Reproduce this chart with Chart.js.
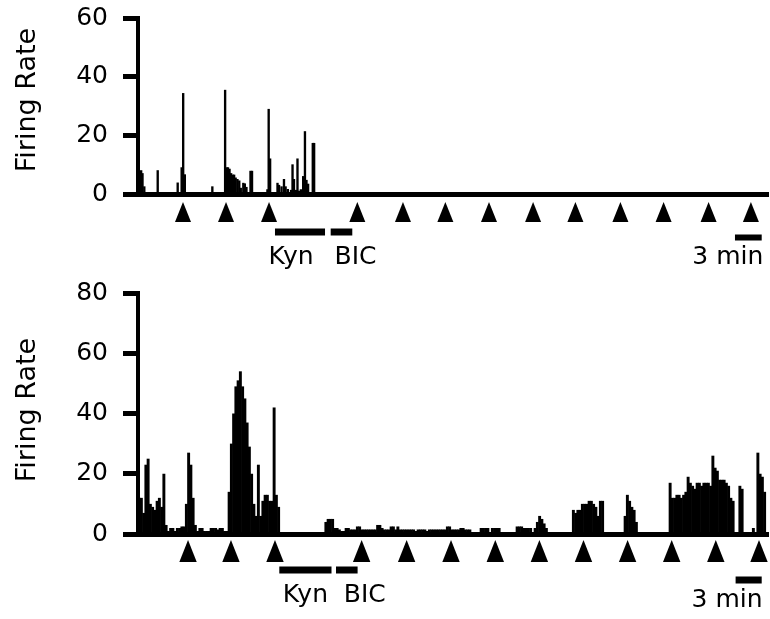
<!DOCTYPE html>
<html>
<head>
<meta charset="utf-8">
<script src="https://cdn.jsdelivr.net/npm/chart.js@4.4.1/dist/chart.umd.min.js"></script>
<style>
  html, body { margin: 0; padding: 0; background: #fff; }
  #wrap { position: relative; width: 770px; height: 619px; }
  .panel { position: absolute; left: 0; width: 770px; }
  #topPanel { top: 0; height: 270px; }
  #bottomPanel { top: 270px; height: 349px; }
</style>
</head>
<body>
<div id="wrap">
  <div class="panel" id="topPanel"><canvas id="topChart"></canvas></div>
  <div class="panel" id="bottomPanel"><canvas id="bottomChart"></canvas></div>
</div>
<script>
// time axis in minutes
const timeRange = [0, 70];

// top cell: sparse spikes (time in min, firing rate)
const topTimes = [
  0.35, 0.5, 0.7, 2.19, 4.41, 4.85, 5.02, 5.2, 8.26,
  9.68, 9.85, 10.0, 10.17, 10.35, 10.52, 10.68, 10.85, 11.05, 11.25, 11.42, 11.7, 11.87, 12.05, 12.5, 12.67,
  14.38, 14.52, 14.68,
  15.5, 15.67, 15.95, 16.22, 16.4, 16.65, 17.0, 17.17, 17.33, 17.55, 17.72, 17.9, 18.1, 18.35, 18.55, 18.72, 18.9, 19.42, 19.57
];
const topRates = [
  8, 7, 2.5, 8, 3.8, 9, 34.3, 6.6, 2.5,
  35.4, 9, 9, 8.5, 7, 6.5, 6.5, 5.5, 5, 4.5, 2, 3.7, 3.5, 2.3, 7.8, 7.8,
  1.5, 28.9, 12,
  3.7, 3, 2.5, 5, 2.5, 1.6, 1.3, 10, 5, 1.3, 12, 1, 1.5, 6, 21.3, 4.7, 3.4, 17.3, 17.3
];

// bottom cell: 15 s bins (0.25 min), one row = 5 min
const binWidth = 0.25;
const bottomRates = [
  12, 12, 7, 23, 25, 10, 9, 8, 11, 12, 9, 20, 3, 1, 2, 2, 1, 2, 2, 2.5,
  2.5, 10, 27, 23, 12, 3, 1, 2, 2, 1, 1, 1, 2, 2, 2, 1.5, 2, 2, 1, 1,
  14, 30, 40, 49, 51, 54, 49, 45, 37, 29, 20, 10, 6, 23, 6, 11, 13, 13, 11, 11,
  42, 13, 9, 0, 0, 0, 0, 0, 0, 0, 0, 0, 0, 0, 0, 0, 0, 0, 0, 0,
  0, 0, 0, 4, 5, 5, 5, 2, 2, 1.5, 1, 1, 2, 2, 1.5, 1.5, 1.5, 2.5, 2.5, 1.5,
  1.5, 1.5, 1.5, 1.5, 1.5, 1.5, 3, 3, 2, 1.5, 1.5, 1.5, 2.5, 2.5, 1.5, 2.5, 1.5, 1.5, 1.5, 1.5,
  1.5, 1.5, 1.5, 1, 1.5, 1.5, 1.5, 1.5, 1, 1.5, 1.5, 1.5, 1.5, 1.5, 1.5, 1.5, 1.5, 2.5, 2.5, 1.5,
  1.5, 1.5, 1.5, 2, 2, 1.5, 1.5, 1.5, 0, 0, 0, 0, 2, 2, 2, 2, 0, 2, 2, 2,
  2, 0, 0, 0, 0, 0, 0, 0, 2.5, 2.5, 2.5, 2, 2, 2, 2, 0.5, 2, 4, 6, 5,
  3.5, 2, 0, 0, 0, 0, 0, 0, 0, 0, 0, 0, 0, 8, 7, 8, 8, 10, 10, 10,
  11, 11, 10, 9, 6, 11, 11, 0, 0, 0, 0, 0, 0, 0, 0, 0, 6, 13, 11, 9,
  8, 4, 0, 0, 0, 0, 0, 0, 0, 0, 0, 0, 0, 0, 0, 0, 17, 12, 12, 13,
  13, 12, 13, 14, 19, 17, 16, 15, 17, 17, 16, 17, 17, 17, 16, 26, 22, 21, 18, 18,
  18, 17, 16, 12, 11, 0, 0, 16, 15, 0, 0, 0, 0, 2, 0, 27, 20, 19, 14, 0
];

// stimulus times (arrowheads), drug applications and scale bar, in min
const topArrowTimes = [5.0, 9.78, 14.56, 24.37, 29.44, 34.15, 39.0, 43.9, 48.6, 53.6, 58.4, 63.4, 68.1];
const bottomArrowTimes = [5.56, 10.33, 15.22, 24.85, 29.85, 34.78, 39.7, 44.6, 49.5, 54.4, 59.3, 64.2, 69.0];
const topKyn = [15.22, 20.78];
const topBic = [21.41, 23.81];
const bottomKyn = [15.7, 21.5];
const bottomBic = [22.0, 24.4];
const topScaleBar = [66.33, 69.3];
const bottomScaleBar = [66.4, 69.3];
const topLabelAt = { kyn: 17.0, bic: 24.17, scale: 69.48 };
const bottomLabelAt = { kyn: 18.6, bic: 25.2, scale: 69.4 };

const FONT = 'DejaVu Sans';

// arrowheads, drug bars, labels and the rotated y title
const stimMarks = {
  id: 'stimMarks',
  afterDraw(chart, args, opts) {
    const { ctx, chartArea } = chart;
    const xs = chart.scales.x;
    const base = chartArea.bottom;
    ctx.save();
    ctx.fillStyle = '#000';
    opts.arrows.forEach(t => {
      const px = xs.getPixelForValue(t);
      ctx.beginPath();
      ctx.moveTo(px, base + opts.arrowTip);
      ctx.lineTo(px + opts.arrowHalf, base + opts.arrowBase);
      ctx.lineTo(px - opts.arrowHalf, base + opts.arrowBase);
      ctx.closePath();
      ctx.fill();
    });
    opts.bars.forEach(b => {
      const x1 = xs.getPixelForValue(b.range[0]);
      const x2 = xs.getPixelForValue(b.range[1]);
      ctx.fillRect(x1, base + b.y - b.h / 2, x2 - x1, b.h);
    });
    ctx.font = '25px "' + FONT + '"';
    ctx.textBaseline = 'alphabetic';
    opts.labels.forEach(l => {
      ctx.textAlign = l.align;
      ctx.fillText(l.text, xs.getPixelForValue(l.at), base + l.y);
    });
    // y title
    ctx.translate(opts.titleX, opts.titleY);
    ctx.rotate(-Math.PI / 2);
    ctx.font = '27px "' + FONT + '"';
    ctx.textAlign = 'center';
    ctx.textBaseline = 'middle';
    ctx.fillText('Firing Rate', 0, 0);
    ctx.restore();
  }
};

function yAxis(max) {
  return {
    min: 0,
    max: max,
    ticks: { stepSize: 20, color: '#000', font: { family: FONT, size: 25 }, padding: 15 },
    grid: { drawOnChartArea: false, drawTicks: true, tickLength: 15, tickWidth: 5, tickColor: '#000' },
    border: { display: true, color: '#000', width: 4 },
    afterFit: s => { s.width = 138; s.paddingTop = 0; s.paddingBottom = 0; }
  };
}

function xAxis() {
  return {
    type: 'linear',
    min: timeRange[0],
    max: timeRange[1],
    offset: false,
    ticks: { display: false },
    grid: { display: false, drawTicks: false },
    border: { display: true, color: '#000', width: 5 },
    afterFit: s => { s.height = 0; }
  };
}

const topData = topTimes.map((t, i) => ({ x: t, y: topRates[i] }));

new Chart(document.getElementById('topChart'), {
  type: 'bar',
  data: {
    datasets: [{
      data: topData,
      backgroundColor: '#000',
      borderWidth: 0,
      barThickness: 1.7
    }]
  },
  options: {
    responsive: true,
    maintainAspectRatio: false,
    animation: false,
    devicePixelRatio: 1,
    layout: { padding: { top: 18, bottom: 76, left: 0, right: 2 } },
    scales: { x: xAxis(), y: yAxis(60) },
    plugins: {
      legend: { display: false },
      tooltip: { enabled: false },
      stimMarks: {
        arrows: topArrowTimes,
        arrowTip: 8,
        arrowBase: 28,
        arrowHalf: 8,
        bars: [
          { range: topKyn, y: 38, h: 7 },
          { range: topBic, y: 38, h: 7 },
          { range: topScaleBar, y: 43.5, h: 6 }
        ],
        labels: [
          { text: 'Kyn', at: topLabelAt.kyn, y: 70, align: 'center' },
          { text: 'BIC', at: topLabelAt.bic, y: 70, align: 'center' },
          { text: '3 min', at: topLabelAt.scale, y: 70, align: 'right' }
        ],
        titleX: 28,
        titleY: 100
      }
    }
  },
  plugins: [stimMarks]
});

// one bar per bin, centred in its bin
const bottomData = bottomRates.map((v, i) => ({ x: (i + 0.5) * binWidth, y: v }));

new Chart(document.getElementById('bottomChart'), {
  type: 'bar',
  data: {
    datasets: [{
      data: bottomData,
      backgroundColor: '#000',
      borderWidth: 0,
      barPercentage: 1.3,
      categoryPercentage: 1
    }]
  },
  options: {
    responsive: true,
    maintainAspectRatio: false,
    animation: false,
    devicePixelRatio: 1,
    layout: { padding: { top: 23, bottom: 85, left: 0, right: 2 } },
    scales: { x: xAxis(), y: yAxis(80) },
    plugins: {
      legend: { display: false },
      tooltip: { enabled: false },
      stimMarks: {
        arrows: bottomArrowTimes,
        arrowTip: 6,
        arrowBase: 28,
        arrowHalf: 8.7,
        bars: [
          { range: bottomKyn, y: 36, h: 7 },
          { range: bottomBic, y: 36, h: 7 },
          { range: bottomScaleBar, y: 46, h: 7 }
        ],
        labels: [
          { text: 'Kyn', at: bottomLabelAt.kyn, y: 68, align: 'center' },
          { text: 'BIC', at: bottomLabelAt.bic, y: 68, align: 'center' },
          { text: '3 min', at: bottomLabelAt.scale, y: 73, align: 'right' }
        ],
        titleX: 28,
        titleY: 140
      }
    }
  },
  plugins: [stimMarks]
});
</script>
</body>
</html>
